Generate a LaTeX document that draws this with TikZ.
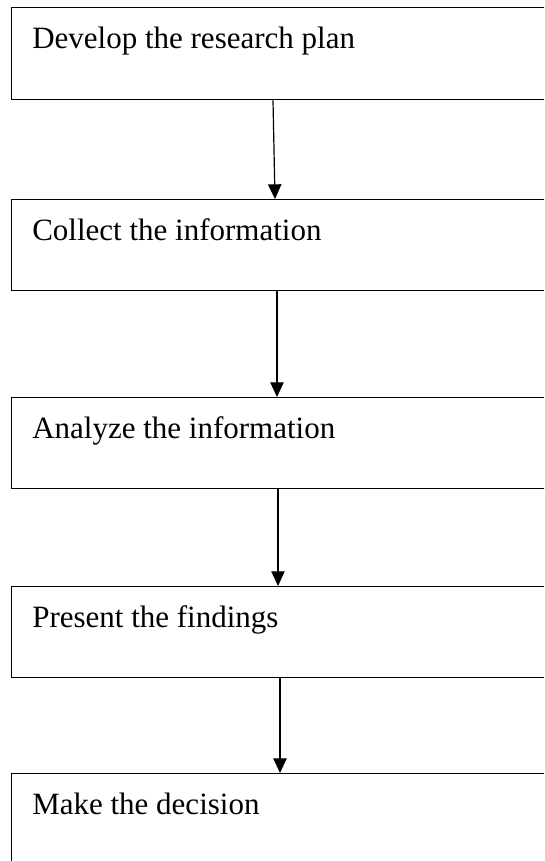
\documentclass[tikz,border=0pt]{standalone}
\usepackage{fontspec}
\setmainfont{Liberation Serif}
\usetikzlibrary{arrows.meta}
\begin{document}
\begin{tikzpicture}[x=0.75pt,y=-0.75pt,
  stepbox/.style={draw, line width=1.1pt, rectangle, anchor=north west,
    inner sep=0pt, minimum width=412pt},
  steptext/.style={anchor=base west, inner sep=0pt,
    font=\fontsize{23.25}{28}\selectfont},
  flow/.style={-{Triangle[length=11pt,width=10pt]}, line width=0.9pt}]
\clip (0,0) rectangle (544,861);
\useasboundingbox (0,0) rectangle (544,861);

% process steps
\node[stepbox, minimum height=69pt] (b1) at (11,7) {};
\node[stepbox, minimum height=68pt] (b2) at (11,199) {};
\node[stepbox, minimum height=68pt] (b3) at (11,397) {};
\node[stepbox, minimum height=68pt] (b4) at (11,586) {};
\node[stepbox, minimum height=90pt] (b5) at (11,773) {};

\node[steptext] (t1) at (32,48) {Develop the research plan};
\node[steptext] (t2) at (32,240) {Collect the information};
\node[steptext] (t3) at (32,438) {Analyze the information};
\node[steptext] (t4) at (32,627) {Present the findings};
\node[steptext] (t5) at (32,814) {Make the decision};

% connectors
\draw[flow] ([xshift=196.5pt]b1.south west) -- ([xshift=198pt]b2.north west);
\draw[flow] ([xshift=199.5pt]b2.south west) -- ([xshift=199.5pt]b3.north west);
\draw[flow] ([xshift=200.25pt]b3.south west) -- ([xshift=200.25pt]b4.north west);
\draw[flow] ([xshift=201.75pt]b4.south west) -- ([xshift=201.75pt]b5.north west);
\end{tikzpicture}
\end{document}
